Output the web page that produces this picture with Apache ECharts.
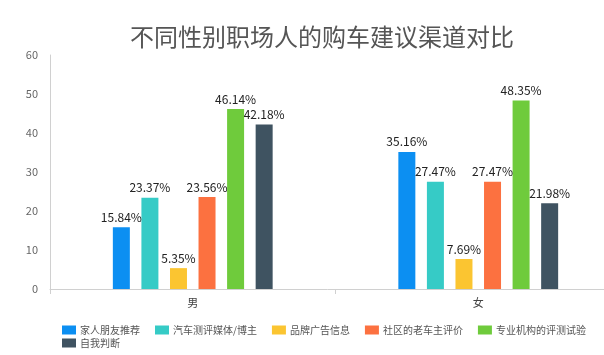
<!DOCTYPE html>
<html>
<head>
<meta charset="utf-8">
<script src="https://cdn.jsdelivr.net/npm/echarts@6/dist/echarts.min.js"></script>
<style>html,body{margin:0;padding:0;background:#fff;}#c{width:604px;height:355px;}</style>
</head>
<body>
<div id="c"></div>
<script>
var categories = ['男', '女'];
var seriesNames = ['家人朋友推荐', '汽车测评媒体/博主', '品牌广告信息', '社区的老车主评价', '专业机构的评测试验', '自我判断'];
var jiaren = [15.84, 35.16];
var meiti = [23.37, 27.47];
var guanggao = [5.35, 7.69];
var laochezhu = [23.56, 27.47];
var zhuanye = [46.14, 48.35];
var ziwo = [42.18, 21.98];
var yTicks = [0, 10, 20, 30, 40, 50, 60];
var colors = ['#0c8ff2', '#36cbc6', '#fbc531', '#fc7140', '#6fcb3c', '#3f5361'];

var seriesData = [jiaren, meiti, guanggao, laochezhu, zhuanye, ziwo];
var font = '"Noto Sans CJK SC", "Noto Sans", sans-serif';
var legendText = { fontSize: 10, color: '#555', fontFamily: font, padding: [0, 0, 0, -1] };
var chart = echarts.init(document.getElementById('c'));
chart.setOption({
  animation: false,
  color: colors,
  textStyle: { fontFamily: font },
  title: {
    text: '不同性别职场人的购车建议渠道对比',
    left: 125, top: 20,
    textStyle: { fontSize: 24, fontWeight: 'normal', color: '#555', fontFamily: font }
  },
  legend: [{
    left: 62, top: 325, width: 560, padding: 0,
    itemWidth: 14, itemHeight: 9, itemGap: 15,
    icon: 'rect',
    textStyle: legendText,
    data: seriesNames.slice(0, 5)
  }, {
    left: 62, top: 338, padding: 0,
    itemWidth: 14, itemHeight: 9, itemGap: 15,
    icon: 'rect',
    textStyle: legendText,
    data: seriesNames.slice(5)
  }],
  grid: { left: 50, right: -17, top: 55, bottom: 66, containLabel: false, outerBoundsMode: 'none' },
  xAxis: {
    type: 'category',
    data: categories,
    axisLine: { lineStyle: { color: '#d0d0d0' } },
    axisTick: { show: true, length: 5, lineStyle: { color: '#d0d0d0' } },
    axisLabel: { color: '#444', fontSize: 11, margin: 8 }
  },
  yAxis: {
    type: 'value', min: 0, max: 60, interval: 10,
    axisLine: { show: true, lineStyle: { color: '#d0d0d0' } },
    axisTick: { show: false },
    splitLine: { show: false },
    axisLabel: { color: '#666', fontSize: 11, margin: 12,
      formatter: function (v) { return yTicks.indexOf(v) >= 0 ? String(v) : ''; } }
  },
  series: seriesNames.map(function (n, i) {
    return {
      name: n, type: 'bar', data: seriesData[i],
      barWidth: 17, barGap: '68%',
      label: { show: true, position: 'top', distance: 4, formatter: '{c}%', color: '#222', fontSize: 12, fontFamily: font }
    };
  })
});
</script>
</body>
</html>
